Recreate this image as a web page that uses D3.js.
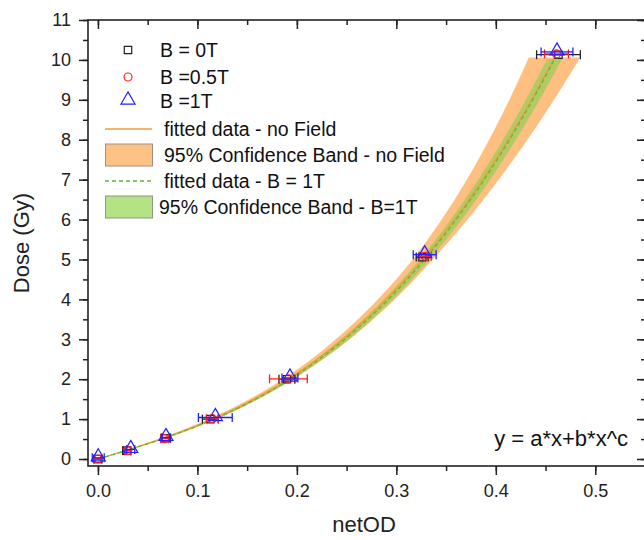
<!DOCTYPE html>
<html>
<head>
<meta charset="utf-8">
<script src="https://cdn.jsdelivr.net/npm/d3@7"></script>
<style>
  body { margin: 0; background: #fff; }
  svg { font-family: Arial, "Liberation Sans", sans-serif; }
</style>
</head>
<body>
<div id="chart"></div>
<script>
// measured points: [netOD, dose, netOD error]
const pointsB0 = [[0.000, 0.00, 0.004], [0.029, 0.21, 0.004], [0.068, 0.52, 0.005], [0.113, 1.00, 0.008], [0.190, 2.00, 0.008], [0.326, 5.06, 0.006], [0.463, 10.13, 0.022]];
const pointsB05 = [[0.000, 0.00, 0.003], [0.030, 0.21, 0.003], [0.067, 0.51, 0.004], [0.115, 1.01, 0.006], [0.1915, 2.01, 0.019], [0.329, 5.08, 0.006], [0.461, 10.15, 0.012]];
const pointsB1 = [[0.0003, 0.03, 0.006], [0.033, 0.24, 0.004], [0.0684, 0.54, 0.004], [0.118, 1.04, 0.017], [0.193, 2.03, 0.008], [0.3285, 5.12, 0.0115], [0.4615, 10.2, 0.016]];

// fit y = a*x + b*x^c
const fitNoField = { a: 7.49, b: 58.6, c: 2.8, xEnd: 0.459 };
const fitB1 = { a: 7.40, b: 60.0, c: 2.83, xEnd: 0.459 };

// confidence band half widths (netOD) read at dose levels
const bandDose = [0, 0.5, 1, 2, 3, 5, 7, 10.1];
const bandNoField = [0.0004, 0.003, 0.004, 0.005, 0.007, 0.010, 0.016, 0.026];
const bandB1 = [0.0002, 0.0015, 0.002, 0.003, 0.004, 0.005, 0.006, 0.0075];

const xTicks = [0, 0.1, 0.2, 0.3, 0.4, 0.5];
const yTicks = [0, 1, 2, 3, 4, 5, 6, 7, 8, 9, 10, 11];

const legendLabels = ['B = 0T', 'B =0.5T', 'B =1T', 'fitted data - no Field', '95% Confidence Band - no Field', 'fitted data - B = 1T', '95% Confidence Band - B=1T'];

const width = 644, height = 540;
const frame = { left: 88, right: 646, top: 20, bottom: 466 };

const svg = d3.select('#chart').append('svg')
  .attr('width', width)
  .attr('height', height);

const x = d3.scaleLinear().domain([-0.01, 0.551]).range([frame.left, frame.right]);
const y = d3.scaleLinear().domain([-0.175, 11]).range([frame.bottom, frame.top]);

const minorX = d3.range(0, 0.56, 0.05);
const minorY = d3.range(0, 11.01, 0.5);

// axes with outward ticks
function styleAxis(g) {
  g.select('.domain').remove();
  g.selectAll('line').attr('stroke', '#222').attr('stroke-width', 1.5);
  g.selectAll('text').attr('fill', '#222').style('font-size', '18px');
}

svg.append('g')
  .attr('transform', `translate(0,${frame.bottom})`)
  .call(d3.axisBottom(x).tickValues(minorX).tickSize(5).tickFormat(''))
  .call(styleAxis);
svg.append('g')
  .attr('transform', `translate(0,${frame.bottom})`)
  .call(d3.axisBottom(x).tickValues(xTicks).tickSize(9).tickPadding(9).tickFormat(d3.format('.1f')))
  .call(styleAxis);

svg.append('g')
  .attr('transform', `translate(${frame.left},0)`)
  .call(d3.axisLeft(y).tickValues(minorY).tickSize(5).tickFormat(''))
  .call(styleAxis);
svg.append('g')
  .attr('transform', `translate(${frame.left},0)`)
  .call(d3.axisLeft(y).tickValues(yTicks).tickSize(9).tickPadding(8).tickFormat(d3.format('d')))
  .call(styleAxis);

// mirror ticks pointing inward
svg.append('g')
  .attr('transform', `translate(0,${frame.top})`)
  .call(d3.axisBottom(x).tickValues(minorX).tickSize(5).tickFormat(''))
  .call(styleAxis);
svg.append('g')
  .attr('transform', `translate(0,${frame.top})`)
  .call(d3.axisBottom(x).tickValues(xTicks).tickSize(9).tickFormat(''))
  .call(styleAxis);
svg.append('g')
  .attr('transform', `translate(${frame.right},0)`)
  .call(d3.axisLeft(y).tickValues(minorY).tickSize(5).tickFormat(''))
  .call(styleAxis);
svg.append('g')
  .attr('transform', `translate(${frame.right},0)`)
  .call(d3.axisLeft(y).tickValues(yTicks).tickSize(9).tickFormat(''))
  .call(styleAxis);

// plot area clip
svg.append('clipPath').attr('id', 'plotClip')
  .append('rect')
  .attr('x', frame.left).attr('y', frame.top)
  .attr('width', frame.right - frame.left).attr('height', frame.bottom - frame.top);

const plot = svg.append('g').attr('clip-path', 'url(#plotClip)');

function fitValue(fit, v) { return fit.a * v + fit.b * Math.pow(v, fit.c); }
function fitSamples(fit) {
  return d3.range(0, 201).map(i => {
    const v = fit.xEnd * i / 200;
    return { od: v, dose: fitValue(fit, v) };
  });
}

function drawBand(fit, halfWidths, fill, opacity) {
  const hw = d3.scaleLinear().domain(bandDose).range(halfWidths).clamp(true);
  const area = d3.area()
    .y(d => y(d.dose))
    .x0(d => x(d.od - hw(d.dose)))
    .x1(d => x(d.od + hw(d.dose)));
  plot.append('path')
    .datum(fitSamples(fit))
    .attr('d', area)
    .attr('fill', fill)
    .attr('fill-opacity', opacity)
    .attr('stroke', 'none');
}

drawBand(fitNoField, bandNoField, '#ffbf80', 1);
drawBand(fitB1, bandB1, '#80d050', 0.6);

const fitLine = d3.line().x(d => x(d.od)).y(d => y(d.dose));
plot.append('path')
  .datum(fitSamples(fitNoField))
  .attr('d', fitLine)
  .attr('fill', 'none')
  .attr('stroke', '#f59a38')
  .attr('stroke-width', 1.3);
plot.append('path')
  .datum(fitSamples(fitB1))
  .attr('d', fitLine)
  .attr('fill', 'none')
  .attr('stroke', '#55bb33')
  .attr('stroke-width', 1.2)
  .attr('stroke-dasharray', '4,3');

// error bars + markers
const symbols = {
  square: d3.symbol().type(d3.symbolSquare).size(55),
  circle: d3.symbol().type(d3.symbolCircle).size(50),
  triangle: d3.symbol().type(d3.symbolTriangle).size(85)
};

function drawSeries(data, color, shape) {
  const g = plot.append('g');
  data.forEach(p => {
    const cx = x(p[0]), cy = y(p[1]);
    const x0 = x(p[0] - p[2]), x1 = x(p[0] + p[2]);
    g.append('line').attr('x1', x0).attr('x2', x1).attr('y1', cy).attr('y2', cy)
      .attr('stroke', color).attr('stroke-width', 1.3);
    [x0, x1].forEach(xx => {
      g.append('line').attr('x1', xx).attr('x2', xx).attr('y1', cy - 4.5).attr('y2', cy + 4.5)
        .attr('stroke', color).attr('stroke-width', 1.3);
    });
  });
  g.selectAll('path.marker')
    .data(data)
    .join('path')
    .attr('class', 'marker')
    .attr('d', symbols[shape])
    .attr('transform', d => `translate(${x(d[0])},${y(d[1]) + (shape === 'triangle' ? -1 : 0)})`)
    .attr('fill', 'none')
    .attr('stroke', color)
    .attr('stroke-width', 1.2);
}

drawSeries(pointsB0, '#222222', 'square');
drawSeries(pointsB05, '#ff2020', 'circle');
drawSeries(pointsB1, '#2020ff', 'triangle');

// frame
svg.append('rect')
  .attr('x', frame.left).attr('y', frame.top)
  .attr('width', frame.right - frame.left).attr('height', frame.bottom - frame.top)
  .attr('fill', 'none')
  .attr('stroke', '#222')
  .attr('stroke-width', 1.6);

// legend
const legend = svg.append('g').style('font-size', '19.5px').attr('fill', '#111');
const rowY = [50, 77, 101, 129, 155, 181, 207];
const markerDefs = [['square', '#222222'], ['circle', '#ff2020'], ['triangle', '#2020ff']];
markerDefs.forEach((m, i) => {
  legend.append('path')
    .attr('d', symbols[m[0]])
    .attr('transform', `translate(128,${rowY[i] + (m[0] === 'triangle' ? -1 : 0)})`)
    .attr('fill', 'none')
    .attr('stroke', m[1])
    .attr('stroke-width', 1.2);
  legend.append('text').attr('x', 160).attr('y', rowY[i] + 7).text(legendLabels[i]);
});
legend.append('line').attr('x1', 105).attr('x2', 152).attr('y1', rowY[3]).attr('y2', rowY[3])
  .attr('stroke', '#f59a38').attr('stroke-width', 1.5);
legend.append('text').attr('x', 164).attr('y', rowY[3] + 7).text(legendLabels[3]);
legend.append('rect').attr('x', 105.5).attr('y', rowY[4] - 11).attr('width', 47).attr('height', 22)
  .attr('fill', '#ffc285').attr('stroke', '#a08f80').attr('stroke-width', 1);
legend.append('text').attr('x', 164).attr('y', rowY[4] + 7).text(legendLabels[4]);
legend.append('line').attr('x1', 105).attr('x2', 152).attr('y1', rowY[5]).attr('y2', rowY[5])
  .attr('stroke', '#55bb33').attr('stroke-width', 1.5).attr('stroke-dasharray', '4,3');
legend.append('text').attr('x', 164).attr('y', rowY[5] + 7).text(legendLabels[5]);
legend.append('rect').attr('x', 105.5).attr('y', rowY[6] - 11).attr('width', 47).attr('height', 22)
  .attr('fill', '#b3e384').attr('stroke', '#8a9a80').attr('stroke-width', 1);
legend.append('text').attr('x', 159).attr('y', rowY[6] + 7).text(legendLabels[6]);

// equation
svg.append('text')
  .attr('x', 628).attr('y', 446)
  .attr('text-anchor', 'end')
  .style('font-size', '22px')
  .attr('fill', '#111')
  .text('y = a*x+b*x^c');

// axis titles
svg.append('text')
  .attr('x', 364).attr('y', 532)
  .attr('text-anchor', 'middle')
  .style('font-size', '22px')
  .attr('fill', '#222')
  .text('netOD');
svg.append('text')
  .attr('transform', `translate(29,243) rotate(-90)`)
  .attr('text-anchor', 'middle')
  .style('font-size', '22px')
  .attr('fill', '#222')
  .text('Dose (Gy)');
</script>
</body>
</html>
